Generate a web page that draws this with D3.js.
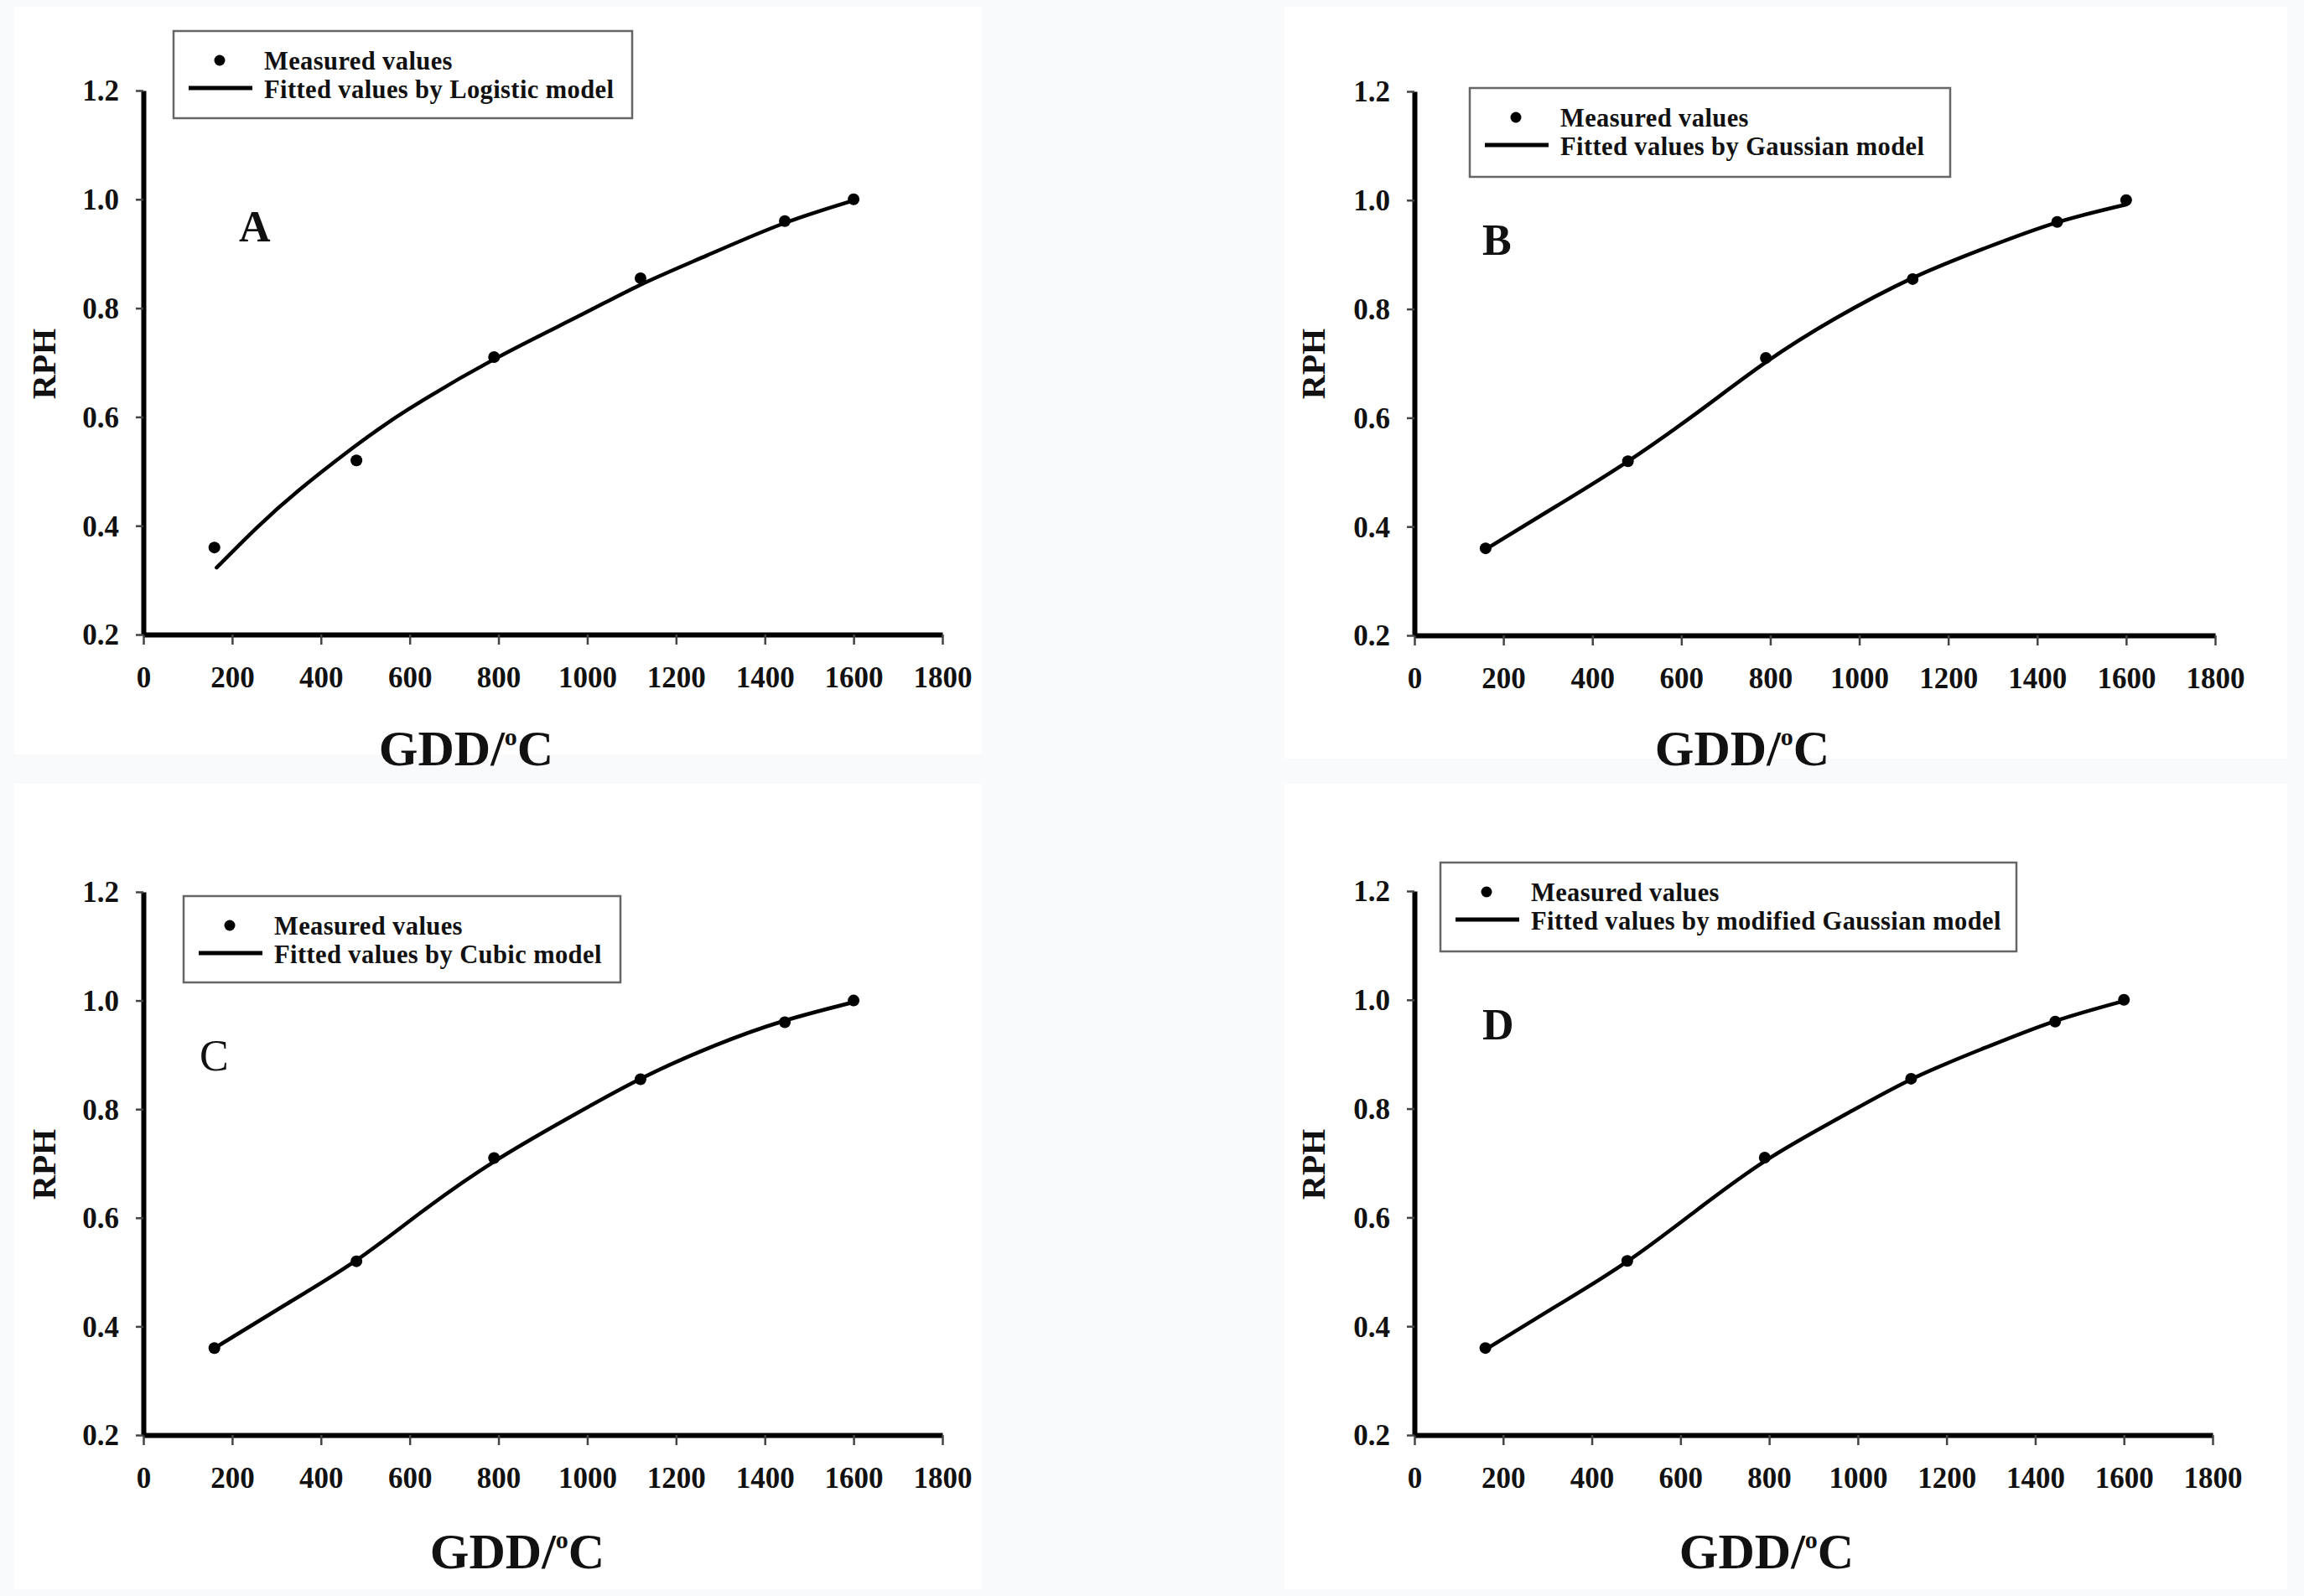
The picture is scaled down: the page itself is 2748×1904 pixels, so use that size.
<!DOCTYPE html>
<html>
<head>
<meta charset="utf-8">
<script src="https://cdn.jsdelivr.net/npm/d3@7"></script>
<style>
  html, body { margin: 0; padding: 0; background: #f9fafc; }
  svg { display: block; }
  text { font-family: "Liberation Serif", "Times New Roman", serif; fill: #111; }
</style>
</head>
<body>
<svg id="chart" width="2748" height="1904"></svg>
<script>
// ---------------- DATA ----------------
const measuredGDD = [160, 480, 790, 1120, 1445, 1600];
const measuredRPH = [0.36, 0.52, 0.71, 0.855, 0.96, 1.0];

const xTickValues = [0, 200, 400, 600, 800, 1000, 1200, 1400, 1600, 1800];
const yTickValues = [0.2, 0.4, 0.6, 0.8, 1.0, 1.2];

const panelLetters = ["A", "B", "C", "D"];
const modelNames = ["Logistic", "Gaussian", "Cubic", "modified Gaussian"];

// fitted curves
const logisticGDD = [165, 255, 350, 470, 595, 790, 980, 1120, 1270, 1440, 1600];
const logisticRPH = [0.323, 0.396, 0.465, 0.542, 0.613, 0.706, 0.785, 0.843, 0.897, 0.955, 0.998];

const gaussianGDD = [160, 320, 480, 640, 790, 945, 1120, 1280, 1440, 1600];
const gaussianRPH = [0.358, 0.438, 0.52, 0.612, 0.702, 0.782, 0.857, 0.911, 0.958, 0.992];

const cubicGDD = [160, 320, 480, 632, 795, 960, 1120, 1287, 1441, 1600];
const cubicRPH = [0.36, 0.44, 0.522, 0.614, 0.706, 0.785, 0.856, 0.917, 0.962, 0.997];

const modGaussGDD = [160, 320, 480, 636, 795, 960, 1123, 1287, 1441, 1600];
const modGaussRPH = [0.357, 0.437, 0.519, 0.613, 0.706, 0.784, 0.855, 0.912, 0.96, 0.998];

const fittedGDD = [logisticGDD, gaussianGDD, cubicGDD, modGaussGDD];
const fittedRPH = [logisticRPH, gaussianRPH, cubicRPH, modGaussRPH];

// ---------------- LAYOUT ----------------
const panels = [
  { bg: [17, 8, 1154, 892],  plot: [171, 1124, 108, 757],  legend: [207, 37, 547, 104],  letter: [285, 288, "bold"], rph: [66, 434], gddx: [556, 913] },
  { bg: [1532, 8, 1196, 897], plot: [1687, 2642, 109, 758], legend: [1753, 105, 573, 106], letter: [1768, 304, "bold"], rph: [1580, 434], gddx: [2078, 913] },
  { bg: [17, 935, 1154, 961], plot: [171, 1124, 1064, 1712], legend: [219, 1069, 521, 103], letter: [238, 1277, "normal"], rph: [66, 1389], gddx: [617, 1871] },
  { bg: [1532, 935, 1196, 961], plot: [1687, 2639, 1063, 1712], legend: [1718, 1029, 687, 106], letter: [1768, 1240, "bold"], rph: [1580, 1389], gddx: [2107, 1871] }
];

const svg = d3.select("#chart");

panels.forEach((p, i) => {
  const g = svg.append("g");
  g.append("rect").attr("x", p.bg[0]).attr("y", p.bg[1]).attr("width", p.bg[2]).attr("height", p.bg[3]).attr("fill", "#ffffff");

  const x = d3.scaleLinear().domain([0, 1800]).range([p.plot[0], p.plot[1]]);
  const y = d3.scaleLinear().domain([0.2, 1.2]).range([p.plot[3], p.plot[2]]);

  // X axis
  const xa = g.append("g").attr("transform", `translate(0,${p.plot[3]})`)
    .call(d3.axisBottom(x).tickValues(xTickValues).tickSizeInner(12).tickSizeOuter(0).tickPadding(26).tickFormat(d3.format("d")));
  xa.select(".domain").attr("stroke", "#000").attr("stroke-width", 6);
  xa.selectAll(".tick line").attr("stroke", "#444").attr("stroke-width", 2.5);
  xa.selectAll(".tick text").attr("font-family", "Liberation Serif").attr("font-weight", "bold").attr("font-size", 35).attr("fill", "#111");

  // Y axis
  const ya = g.append("g").attr("transform", `translate(${p.plot[0]},0)`)
    .call(d3.axisLeft(y).tickValues(yTickValues).tickSizeInner(9).tickSizeOuter(0).tickPadding(20).tickFormat(d3.format(".1f")));
  ya.select(".domain").attr("stroke", "#000").attr("stroke-width", 6);
  ya.selectAll(".tick line").attr("stroke", "#444").attr("stroke-width", 2.5);
  ya.selectAll(".tick text").attr("font-family", "Liberation Serif").attr("font-weight", "bold").attr("font-size", 35).attr("fill", "#111").attr("dy", "0.34em");

  // fitted curve
  const pts = fittedGDD[i].map((gx, k) => [gx, fittedRPH[i][k]]);
  g.append("path").datum(pts)
    .attr("d", d3.line().x(d => x(d[0])).y(d => y(d[1])).curve(d3.curveNatural))
    .attr("fill", "none").attr("stroke", "#000").attr("stroke-width", 4.5).attr("stroke-linecap", "round");

  // measured points
  g.selectAll("circle.pt").data(measuredGDD.map((gx, k) => [gx, measuredRPH[k]])).enter()
    .append("circle").attr("class", "pt")
    .attr("cx", d => x(d[0])).attr("cy", d => y(d[1])).attr("r", 7).attr("fill", "#000");

  // panel letter
  g.append("text").attr("x", p.letter[0]).attr("y", p.letter[1])
    .attr("font-size", 52).attr("font-weight", p.letter[2]).text(panelLetters[i]);

  // y-axis title
  g.append("text").attr("transform", `translate(${p.rph[0]},${p.rph[1]}) rotate(-90)`)
    .attr("text-anchor", "middle").attr("font-size", 40).attr("font-weight", "bold").text("RPH");

  // x-axis title
  const xt = g.append("text").attr("x", p.gddx[0]).attr("y", p.gddx[1])
    .attr("text-anchor", "middle").attr("font-size", 60).attr("font-weight", "bold");
  xt.append("tspan").text("GDD/");
  xt.append("tspan").attr("font-size", 30).attr("dy", -24).text("o");
  xt.append("tspan").attr("dy", 24).text("C");

  // legend
  const L = p.legend;
  const lg = g.append("g").attr("transform", `translate(${L[0]},${L[1]})`);
  lg.append("rect").attr("x", 0).attr("y", 0).attr("width", L[2]).attr("height", L[3])
    .attr("fill", "#fff").attr("stroke", "#666").attr("stroke-width", 2.5);
  lg.append("circle").attr("cx", 55).attr("cy", 35).attr("r", 6.5).attr("fill", "#000");
  lg.append("line").attr("x1", 18).attr("x2", 94).attr("y1", 68).attr("y2", 68)
    .attr("stroke", "#000").attr("stroke-width", 5);
  lg.append("text").attr("x", 108).attr("y", 46).attr("font-size", 30.5).attr("letter-spacing", 0.4).attr("font-weight", "bold").text("Measured values");
  lg.append("text").attr("x", 108).attr("y", 80).attr("font-size", 30.5).attr("letter-spacing", 0.4).attr("font-weight", "bold")
    .text("Fitted values by " + modelNames[i] + " model");
});
</script>
</body>
</html>
